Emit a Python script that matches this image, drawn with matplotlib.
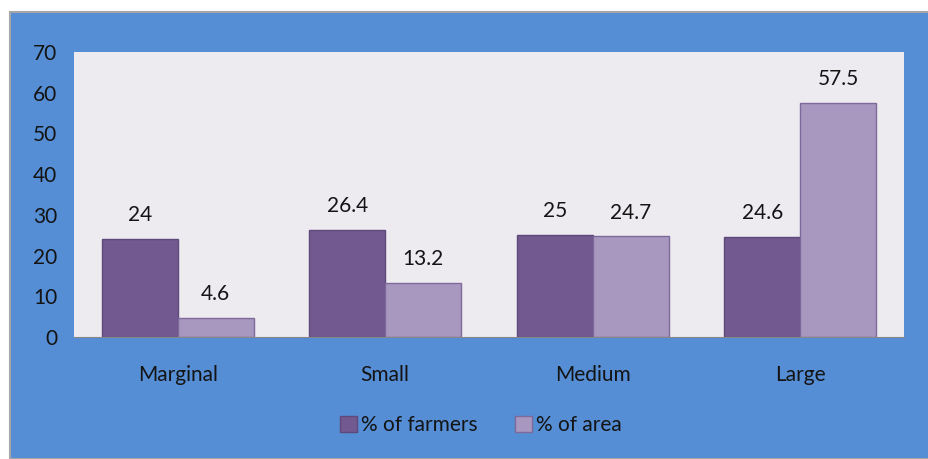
import matplotlib.pyplot as plt
from matplotlib.patches import Rectangle
import numpy as np

categories = ["Marginal", "Small", "Medium", "Large"]
farmers = [24, 26.4, 25, 24.6]
area = [4.6, 13.2, 24.7, 57.5]
farmer_labels = ["24", "26.4", "25", "24.6"]
area_labels = ["4.6", "13.2", "24.7", "57.5"]
yticks = [0, 10, 20, 30, 40, 50, 60, 70]

W, H = 929, 459
FS = 15
TC = "#141414"
fig = plt.figure(figsize=(W / 100, H / 100), dpi=100)
fig.patch.set_facecolor("white")
plt.rcParams['font.family'] = ['Lato', 'DejaVu Sans']

# blue outer panel
fig.patches.append(Rectangle((10 / W, 0), 1 - 10 / W + 0.01, 1 - 12 / H, transform=fig.transFigure,
                             facecolor="#558ED5", edgecolor="#A6A6A6", linewidth=1.5, zorder=-5))

ax = fig.add_axes([74 / W, 1 - 337 / H, (904 - 74) / W, (337 - 52) / H])
ax.set_zorder(2)
ax.set_facecolor("#EDEAF0")
x = np.arange(len(categories))
bw = 0.366
b1 = ax.bar(x - bw / 2, farmers, bw, color="#725990", edgecolor="#5E4A7A", linewidth=1, label="% of farmers")
b2 = ax.bar(x + bw / 2, area, bw, color="#A898BF", edgecolor="#7E6A9A", linewidth=1, label="% of area")
for rect, lab in zip(b1, farmer_labels):
    ax.annotate(lab, (rect.get_x() + rect.get_width() / 2, rect.get_height()), xytext=(0, 10),
                textcoords="offset points", ha="center", va="bottom", fontsize=FS, color=TC)
for rect, lab in zip(b2, area_labels):
    ax.annotate(lab, (rect.get_x() + rect.get_width() / 2, rect.get_height()), xytext=(0, 10),
                textcoords="offset points", ha="center", va="bottom", fontsize=FS, color=TC)

ax.set_xlim(-0.5, 3.5)
ax.set_ylim(0, 70)
ax.set_yticks(yticks)
ax.set_yticklabels([str(t) for t in yticks], fontsize=FS, color=TC)
ax.set_xticks(x)
ax.set_xticklabels(categories, fontsize=FS, color=TC)
ax.tick_params(axis="both", length=0)
ax.tick_params(axis="y", pad=12)
ax.tick_params(axis="x", pad=20)
for s in ["top", "right", "left"]:
    ax.spines[s].set_visible(False)
ax.spines["bottom"].set_color("#888888")

leg = fig.legend(handles=[b1, b2], loc="center", bbox_to_anchor=(481 / W, 1 - 425 / H), ncol=2,
                 frameon=False, fontsize=FS, handlelength=0.8, handleheight=0.8,
                 handletextpad=0.2, columnspacing=1.8, labelcolor=TC)

fig.savefig("out.png", dpi=100, facecolor=fig.get_facecolor())
